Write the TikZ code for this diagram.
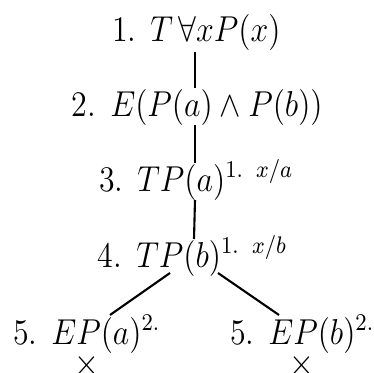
\documentclass[tikz,border=0pt,12pt]{standalone}
\usetikzlibrary{calc}
\newcommand{\tabtxt}[1]{\scalebox{0.95}[1.07]{#1}}
\begin{document}
\begin{tikzpicture}[x=0.3566pt,y=-0.3566pt,
  lbl/.style={inner sep=0pt,outer sep=0pt,anchor=base west},
  edge/.style={line width=0.75pt}]
\useasboundingbox (0,0) rectangle (374,372);
\node[lbl] (n1) at (112,41) {\tabtxt{1. $T\,\forall x P(x)$}};
\node[lbl] (n2) at (72,116) {\tabtxt{2. $E(P(a)\wedge P(b))$}};
\node[lbl] (n3) at (99,191) {\tabtxt{3. $TP(a)^{1.\hspace{5pt}x/a}$}};
\node[lbl] (n4) at (98,267) {\tabtxt{4. $TP(b)^{1.\hspace{5pt}x/b}$}};
\node[lbl] (n5) at (13,344) {\tabtxt{5. $EP(a)^{2.}$}};
\node[lbl] (n6) at (230,344) {\tabtxt{5. $EP(b)^{2.}$}};
\node[inner sep=0pt] (c1) at (87,365) {\tabtxt{$\times$}};
\node[inner sep=0pt] (c2) at (302,365) {\tabtxt{$\times$}};
\draw[edge] ($(n1.base west)+(83,11)$) -- ($(n2.base west)+(123,-28)$);
\draw[edge] ($(n2.base west)+(123,9)$) -- ($(n3.base west)+(96,-28)$);
\draw[edge] ($(n3.base west)+(96,9)$) -- ($(n4.base west)+(96,-28)$);
\draw[edge] ($(n4.base west)+(72,6)$) -- ($(n5.base west)+(97,-29)$);
\draw[edge] ($(n4.base west)+(120,6)$) -- ($(n6.base west)+(49,-29)$);
\end{tikzpicture}
\end{document}
